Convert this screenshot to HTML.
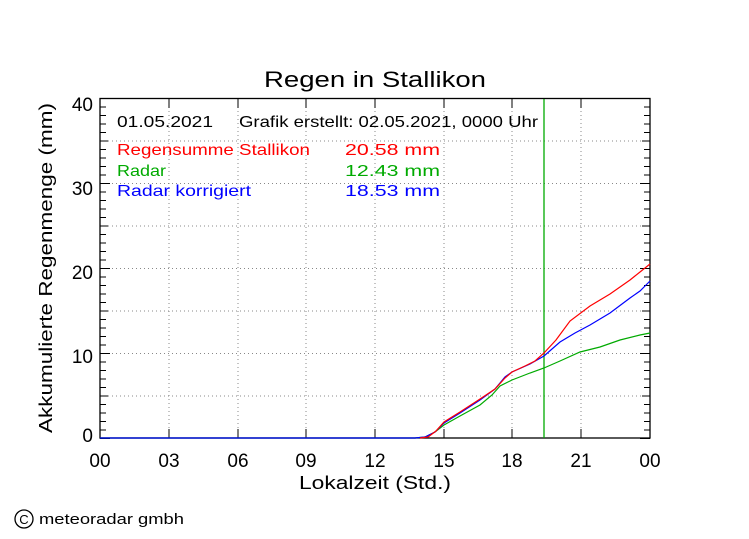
<!DOCTYPE html>
<html><head><meta charset="utf-8"><style>body{margin:0;background:#fff}svg{display:block}text{font-family:"Liberation Sans",sans-serif}</style></head><body>
<svg width="749" height="539" viewBox="0 0 749 539" xmlns="http://www.w3.org/2000/svg">
<rect width="749" height="539" fill="#fff"/>
<text x="375" y="87" font-size="22" text-anchor="middle" textLength="222" lengthAdjust="spacingAndGlyphs">Regen in Stallikon</text>
<g stroke="#888" stroke-width="1" stroke-dasharray="1,3">
<line x1="169" y1="99" x2="169" y2="438"/><line x1="238" y1="99" x2="238" y2="438"/><line x1="306" y1="99" x2="306" y2="438"/><line x1="375" y1="99" x2="375" y2="438"/><line x1="444" y1="99" x2="444" y2="438"/><line x1="512" y1="99" x2="512" y2="438"/><line x1="581" y1="99" x2="581" y2="438"/>
<line x1="100" y1="141" x2="650" y2="141"/><line x1="100" y1="183.5" x2="650" y2="183.5"/><line x1="100" y1="226" x2="650" y2="226"/><line x1="100" y1="268.5" x2="650" y2="268.5"/><line x1="100" y1="311" x2="650" y2="311"/><line x1="100" y1="353.5" x2="650" y2="353.5"/><line x1="100" y1="396" x2="650" y2="396"/>
</g>
<path stroke="#000" stroke-width="1" fill="none" d="
M100 438.5h10M100 430h6M100 421.5h6M100 413h6M100 404.5h6M100 396h8M100 387.5h6M100 379h6M100 370.5h6M100 362h6
M100 353.5h10M100 345h6M100 336.5h6M100 328h6M100 319.5h6M100 311h8M100 302.5h6M100 294h6M100 285.5h6M100 277h6
M100 268.5h10M100 260h6M100 251.5h6M100 243h6M100 234.5h6M100 226h8M100 217.5h6M100 209h6M100 200.5h6M100 192h6
M100 183.5h10M100 175h6M100 166.5h6M100 158h6M100 149.5h6M100 141h8M100 132.5h6M100 124h6M100 115.5h6M100 107h6M100 98.5h10
M650 438.5h-10M650 430h-6M650 421.5h-6M650 413h-6M650 404.5h-6M650 396h-8M650 387.5h-6M650 379h-6M650 370.5h-6M650 362h-6
M650 353.5h-10M650 345h-6M650 336.5h-6M650 328h-6M650 319.5h-6M650 311h-8M650 302.5h-6M650 294h-6M650 285.5h-6M650 277h-6
M650 268.5h-10M650 260h-6M650 251.5h-6M650 243h-6M650 234.5h-6M650 226h-8M650 217.5h-6M650 209h-6M650 200.5h-6M650 192h-6
M650 183.5h-10M650 175h-6M650 166.5h-6M650 158h-6M650 149.5h-6M650 141h-8M650 132.5h-6M650 124h-6M650 115.5h-6M650 107h-6
M169 438v-9M238 438v-9M306 438v-9M375 438v-9M444 438v-9M512 438v-9M581 438v-9
M169 99v9M238 99v9M306 99v9M375 99v9M444 99v9M512 99v9M581 99v9"/>
<rect x="100" y="98.5" width="550" height="339.5" fill="none" stroke="#000" stroke-width="1.3"/>
<line x1="544" y1="99" x2="544" y2="438" stroke="#0a0" stroke-width="1.3"/>
<polyline fill="none" stroke="#0a0" stroke-width="1.2" points="100,438 415,438 425,437 435,432 444,425 460,416 480,405 492,395 500,386 512,380 530,373 544,368 560,361 580,352 600,347 620,340 640,335 650,333"/>
<polyline fill="none" stroke="#00f" stroke-width="1.2" points="100,438 415,438 425,437 435,432 444,423 460,413 480,400 495,389 505,377 512,372 530,364 544,356 560,342 575,333 590,325 610,313 630,298 640,291 650,281"/>
<polyline fill="none" stroke="#f00" stroke-width="1.2" points="420,438 428,437 436,431 444,422 460,412 480,399 495,389 505,378 512,372 525,366 535,361 544,353 556,340 570,321 590,306 610,294 630,280 640,272 650,264"/>
<g font-size="16">
<text x="117" y="127" textLength="96" lengthAdjust="spacingAndGlyphs">01.05.2021</text>
<text x="239" y="127" textLength="299" lengthAdjust="spacingAndGlyphs">Grafik erstellt: 02.05.2021, 0000 Uhr</text>
<text x="117" y="155" fill="#f00" textLength="193" lengthAdjust="spacingAndGlyphs">Regensumme Stallikon</text>
<text x="117" y="176" fill="#0a0" textLength="49" lengthAdjust="spacingAndGlyphs">Radar</text>
<text x="117" y="196" fill="#00f" textLength="134" lengthAdjust="spacingAndGlyphs">Radar korrigiert</text>
<text x="345" y="155" fill="#f00" textLength="95" lengthAdjust="spacingAndGlyphs">20.58  mm</text>
<text x="345" y="176" fill="#0a0" textLength="95" lengthAdjust="spacingAndGlyphs">12.43  mm</text>
<text x="345" y="196" fill="#00f" textLength="95" lengthAdjust="spacingAndGlyphs">18.53  mm</text>
</g>
<g font-size="19" text-anchor="end">
<text x="93" y="111">40</text><text x="93" y="195">30</text><text x="93" y="279">20</text><text x="93" y="363">10</text><text x="93" y="442">0</text>
</g>
<g font-size="19" text-anchor="middle">
<text x="100" y="467">00</text><text x="169" y="467">03</text><text x="238" y="467">06</text><text x="306" y="467">09</text><text x="375" y="467">12</text><text x="444" y="467">15</text><text x="512" y="467">18</text><text x="581" y="467">21</text><text x="650" y="467">00</text>
</g>
<text x="375" y="489" font-size="18" text-anchor="middle" textLength="152" lengthAdjust="spacingAndGlyphs">Lokalzeit (Std.)</text>
<text transform="translate(52,268) rotate(-90)" font-size="18" text-anchor="middle" textLength="330" lengthAdjust="spacingAndGlyphs">Akkumulierte Regenmenge (mm)</text>
<circle cx="24" cy="519" r="9" fill="none" stroke="#000" stroke-width="1.3"/>
<text x="24" y="524" font-size="13" text-anchor="middle">C</text>
<text x="39" y="524" font-size="15" textLength="145" lengthAdjust="spacingAndGlyphs">meteoradar gmbh</text>
</svg>
</body></html>
